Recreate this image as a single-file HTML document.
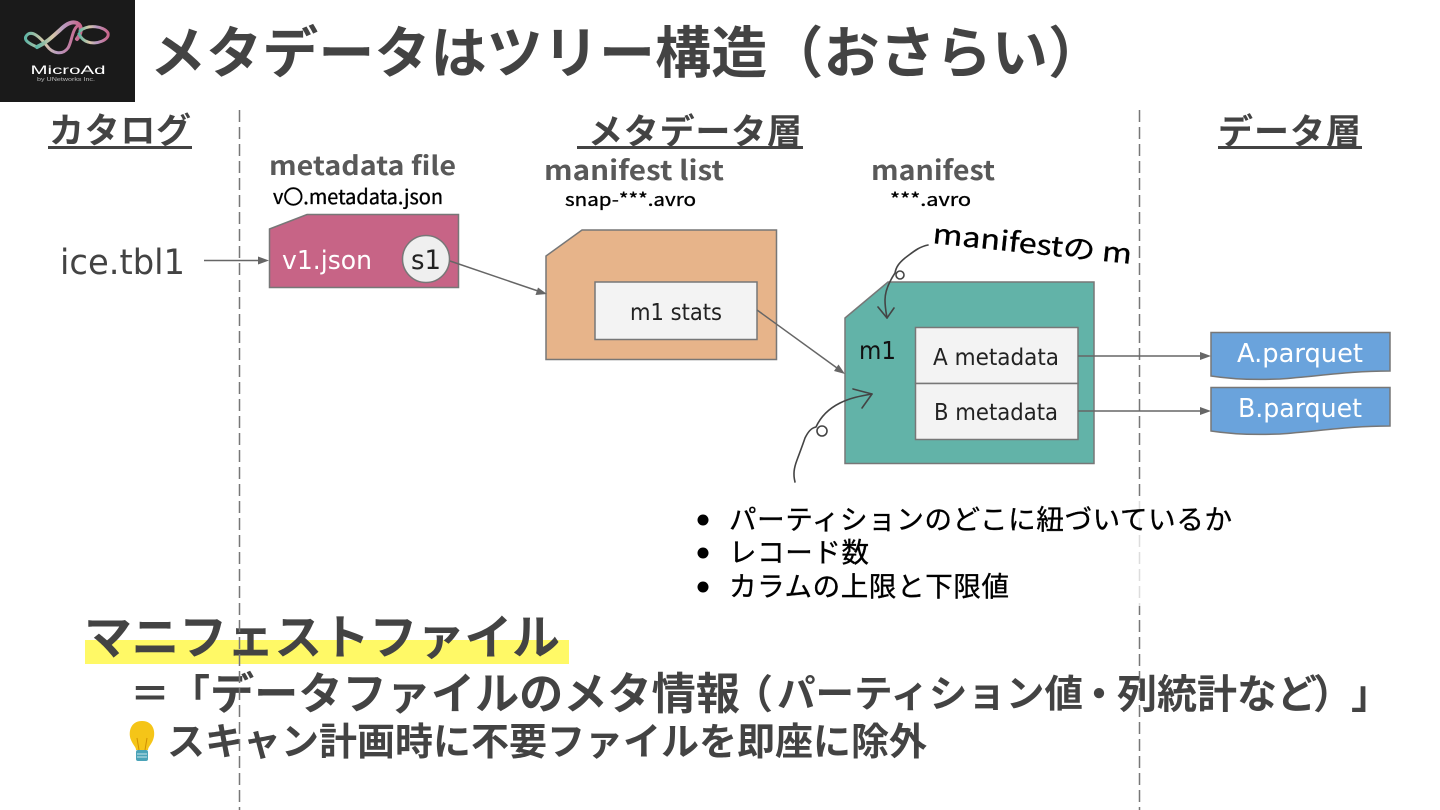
<!DOCTYPE html>
<html lang="ja"><head><meta charset="utf-8"><title>メタデータはツリー構造</title>
<style>
html,body{margin:0;padding:0;background:#fff;width:1440px;height:810px;overflow:hidden}
svg{display:block}
text{font-family:"Liberation Sans","Noto Sans CJK JP",sans-serif}
.b{font-family:"Noto Sans CJK JP",sans-serif;font-weight:700;fill:#434343}
.m{font-family:"Noto Sans CJK JP",sans-serif;font-weight:700;fill:#595959}
.u{font-family:"DejaVu Sans","Noto Sans CJK JP",sans-serif}
.h{font-family:"WenQuanYi Zen Hei","Noto Sans CJK JP",sans-serif;fill:#000;stroke:#000;stroke-width:.35}
.s{stroke:#777;stroke-width:1.5}
.l{stroke:#666;stroke-width:1.5;fill:none}
.hw{stroke:#444;stroke-width:1.6;fill:none;stroke-linecap:round;stroke-linejoin:round}
</style></head><body>
<svg width="1440" height="810" viewBox="0 0 1440 810" xmlns="http://www.w3.org/2000/svg">
<defs>
<linearGradient id="lg" x1="0" y1="0" x2="1" y2="0">
<stop offset="0" stop-color="#5fb5a5"/><stop offset=".35" stop-color="#d8c8a8"/><stop offset=".6" stop-color="#b79ac0"/><stop offset="1" stop-color="#c9658a"/>
</linearGradient>
</defs>
<!-- logo -->
<rect x="0" y="0" width="135" height="102" fill="#1a1a1a"/>
<g fill="none" stroke="url(#lg)" stroke-linecap="round">
<path stroke-width="3" d="M37 47C30 44 22 40 27 35C32 30 40 37 47 46C52 53 62 56 68 48C72 42 72 28 79 25" />
<path stroke-width="4" d="M37 47C46 43 52 37 60 30C66 24 72 21 77 23C83 26 81 34 77 39"/>
<path stroke-width="3" d="M80 31C88 24 104 26 108 33C110 40 96 45 88 42C84 41 81 38 79 34"/>
</g>
<text x="68" y="74" text-anchor="middle" font-size="12" fill="#fff" textLength="75" lengthAdjust="spacingAndGlyphs">MicroAd</text>
<text x="66" y="81" text-anchor="middle" font-size="5" fill="#bbb" textLength="58" lengthAdjust="spacingAndGlyphs">by UNetworks Inc.</text>

<text class="b" x="150" y="73" font-size="56" textLength="954">メタデータはツリー構造（おさらい）</text>

<!-- dashed right + fade -->
<line x1="1139.5" y1="110" x2="1139.5" y2="810" stroke="#777" stroke-width="1.5" stroke-dasharray="12 5"/>
<rect x="1134" y="496" width="11" height="110" fill="#fff" opacity=".75"/>

<!-- headers -->
<text class="b" x="49" y="143" font-size="35" textLength="142">カタログ</text>
<rect x="48" y="146" width="144" height="3" fill="#434343"/>
<text class="b" x="588" y="144" font-size="35" textLength="214">メタデータ層</text>
<rect x="577" y="146" width="226" height="3" fill="#434343"/>
<text class="b" x="1218" y="144" font-size="35" textLength="143">データ層</text>
<rect x="1218" y="146" width="144" height="3" fill="#434343"/>

<!-- subtitles -->
<text class="m" x="269" y="175" font-size="26" textLength="187" lengthAdjust="spacingAndGlyphs">metadata file</text>
<text class="h" x="273" y="204" font-size="20" textLength="170" lengthAdjust="spacingAndGlyphs">v〇.metadata.json</text>
<text class="m" x="544" y="180" font-size="27" textLength="180" lengthAdjust="spacingAndGlyphs">manifest list</text>
<text class="h" x="565" y="206" font-size="18" textLength="131" lengthAdjust="spacingAndGlyphs">snap-***.avro</text>
<text class="m" x="871" y="180" font-size="27" textLength="124" lengthAdjust="spacingAndGlyphs">manifest</text>
<text class="h" x="890" y="206" font-size="18" textLength="81" lengthAdjust="spacingAndGlyphs">***.avro</text>

<text class="u" x="60" y="274" font-size="35" fill="#434343" textLength="125" lengthAdjust="spacingAndGlyphs">ice.tbl1</text>

<!-- metadata shape -->
<path d="M269.5 229L307 214.500H458.500V287.500H269.500Z" fill="#c76486" class="s"/>
<text class="u" x="282" y="269" font-size="26" fill="#fff" textLength="90" lengthAdjust="spacingAndGlyphs">v1.json</text>
<circle cx="426" cy="259" r="23.500" fill="#efefef" class="s"/>
<text class="u" x="426" y="269" font-size="27" fill="#222" text-anchor="middle" textLength="30" lengthAdjust="spacingAndGlyphs">s1</text>

<!-- manifest list -->
<path d="M546 256L582 230H776.500V359.500H546Z" fill="#e7b48a" class="s"/>
<rect x="595" y="282" width="162" height="57.500" fill="#f3f3f3" class="s"/>
<text class="u" x="676" y="320" font-size="23" fill="#222" text-anchor="middle" textLength="92" lengthAdjust="spacingAndGlyphs">m1 stats</text>

<!-- manifest -->
<path d="M845 318L888 282H1094V463.500H845Z" fill="#62b3a8" class="s"/>
<text class="u" x="859" y="359" font-size="25" fill="#111" textLength="37" lengthAdjust="spacingAndGlyphs">m1</text>
<rect x="915.500" y="327.500" width="162.500" height="56" fill="#f3f3f3" class="s"/>
<rect x="915.500" y="383.500" width="162.500" height="56" fill="#f3f3f3" class="s"/>
<text class="u" x="996" y="365" font-size="23" fill="#222" text-anchor="middle" textLength="126" lengthAdjust="spacingAndGlyphs">A metadata</text>
<text class="u" x="996" y="420" font-size="23" fill="#222" text-anchor="middle" textLength="124" lengthAdjust="spacingAndGlyphs">B metadata</text>

<!-- parquet -->
<path d="M1211 332.500H1390V371C1350 371 1320 376 1280 379C1255 380 1230 379 1211 376Z" fill="#6aa3dc" class="s"/>
<path d="M1211 387.500H1390V426C1350 426 1320 431 1280 434C1255 435 1230 434 1211 431Z" fill="#6aa3dc" class="s"/>
<text class="u" x="1300" y="362" font-size="26" fill="#fff" text-anchor="middle" textLength="126" lengthAdjust="spacingAndGlyphs">A.parquet</text>
<text class="u" x="1300" y="417" font-size="26" fill="#fff" text-anchor="middle" textLength="124" lengthAdjust="spacingAndGlyphs">B.parquet</text>

<!-- connectors -->
<g fill="#666">
<line x1="204" y1="260.500" x2="260" y2="260.500" class="l"/><path d="M269 260.500L258 256.500V264.500Z"/>
<line x1="450" y1="261" x2="538" y2="291" class="l"/><path d="M547 294L535.500 295 538 287.500Z"/>
<line x1="757" y1="310" x2="837" y2="368" class="l"/><path d="M845 374L834 371 838.500 364.500Z"/>
<line x1="1078" y1="356" x2="1202" y2="356" class="l"/><path d="M1211 356L1200 352V360Z"/>
<line x1="1078" y1="411" x2="1202" y2="411" class="l"/><path d="M1211 411L1200 407V415Z"/>
</g>

<!-- hand-drawn arrows -->
<path class="hw" d="M928 245C918 247 912 253 905 258C899 263 896 267 895 273C889 282 885 292 885 300C885 307 886 312 887 318"/>
<circle class="hw" cx="900" cy="275" r="4"/>
<path class="hw" d="M878 307L887 318L894 308"/>
<path class="hw" stroke-width="2" d="M795 482C793 474 794 468 797 460C800 452 803 444 805 438C808 432 811 428 816 427C821 416 830 408 840 403C850 398 860 396 872 394"/>
<circle class="hw" stroke-width="2" cx="822" cy="431" r="5"/>
<path class="hw" stroke-width="2" d="M853 389L872 394L862 408"/>

<!-- hand label -->
<text class="h" x="932" y="243" font-size="27" transform="rotate(6 932 243)" textLength="200" lengthAdjust="spacingAndGlyphs" stroke-width=".6">manifestの m</text>

<!-- bullets -->
<circle cx="703" cy="520" r="5.500" fill="#000"/><circle cx="703" cy="553" r="5.500" fill="#000"/><circle cx="703" cy="587" r="5.500" fill="#000"/>
<text class="h" x="729" y="529" font-size="27.500" textLength="503">パーティションのどこに紐づいているか</text>
<text class="h" x="729" y="562" font-size="27.500" textLength="140">レコード数</text>
<text class="h" x="729" y="596" font-size="27.500" textLength="280">カラムの上限と下限値</text>

<!-- bottom -->
<rect x="85" y="640" width="484" height="24" fill="#fff966"/>
<text class="b" x="84" y="654" font-size="48" textLength="476">マニフェストファイル</text>
<text class="b" x="130" y="708" font-size="40">＝「</text>
<text class="b" x="210" y="709" font-size="44" textLength="530" lengthAdjust="spacingAndGlyphs">データファイルのメタ情報</text>
<text class="b" x="733" y="708" font-size="40">（</text>
<text class="b" x="777" y="707" font-size="38" textLength="306" lengthAdjust="spacingAndGlyphs">パーティション値</text>
<text class="b" x="1079" y="708" font-size="40">・</text>
<text class="b" x="1117" y="708" font-size="40" textLength="200">列統計など</text>
<text class="b" x="1313" y="708" font-size="40">）</text>
<text class="b" x="1351" y="708" font-size="40">」</text>
<text class="b" x="167" y="755" font-size="38" textLength="760">スキャン計画時に不要ファイルを即座に除外</text>
<!-- bulb -->
<path d="M142 721C130 721 128 733 131 740C133 745 136 747 136 750H148C148 747 151 745 153 740C156 733 154 721 142 721Z" fill="#f5c518"/>
<rect x="136" y="750" width="12" height="11" rx="2" fill="#4aa3b8"/>
<path d="M137 754H147M137 757H147" stroke="#c8e4ea" stroke-width="1"/>
<path d="M139 750L137 738M145 750L147 738" stroke="#d09000" stroke-width="1" fill="none"/>

<!-- left dashed line sits on top of the text -->
<line x1="239.5" y1="110" x2="239.5" y2="810" stroke="#777" stroke-width="1.5" stroke-dasharray="12 5"/>
</svg>
</body></html>
